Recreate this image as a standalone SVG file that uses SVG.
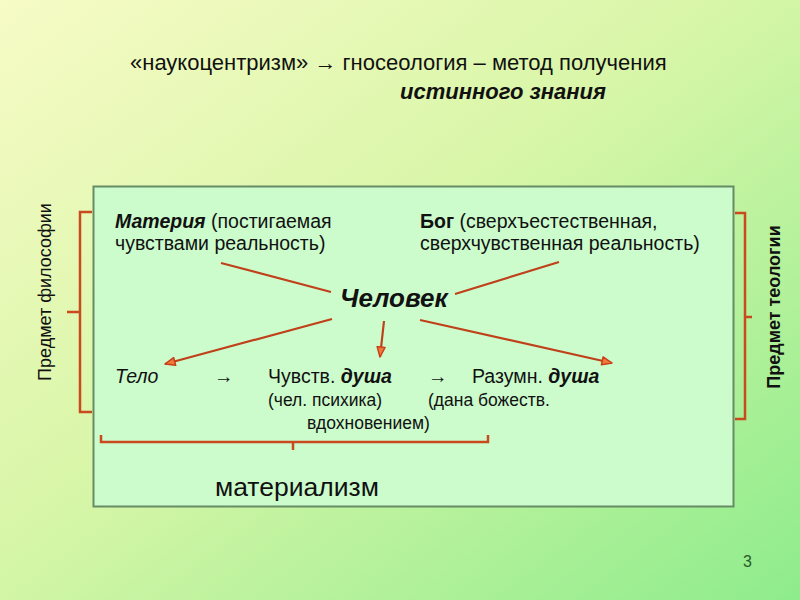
<svg xmlns="http://www.w3.org/2000/svg" width="800" height="600" viewBox="0 0 800 600">
<defs>
<linearGradient id="bg" x1="0" y1="0" x2="1" y2="1">
<stop offset="0" stop-color="#f7fbc6"/>
<stop offset="0.45" stop-color="#d8f6a8"/>
<stop offset="1" stop-color="#8eec8c"/>
</linearGradient>
<marker id="ah" viewBox="0 0 12 10" refX="11" refY="5" markerWidth="12" markerHeight="10" markerUnits="userSpaceOnUse" orient="auto">
<path d="M1,1 L11,5 L1,9 Z" fill="#f07a3a" stroke="#c8401a" stroke-width="1.5" stroke-linejoin="round"/>
</marker>
<style>
text{font-family:"Liberation Sans",Arial,sans-serif;fill:#111}
.t{font-size:22px}
.m{font-size:19.5px}
.s{font-size:17.5px}
.bi{font-weight:bold;font-style:italic}
.i{font-style:italic}
.conn line{stroke:#c0401a;stroke-width:2.2}
.br{fill:none;stroke:#c84a1e;stroke-width:2.5}
.side{font-size:18px}
</style>
</defs>
<rect width="800" height="600" fill="url(#bg)"/>
<g id="title">
<text class="t" x="130" y="70">«наукоцентризм» → гносеология – метод получения</text>
<text class="t bi" x="400" y="99">истинного знания</text>
</g>
<g id="box">
<rect x="93.5" y="186.5" width="640" height="320" fill="#ccfccc" stroke="#668c66" stroke-width="2"/>
</g>
<g id="materiya">
<text class="m" x="115" y="228"><tspan class="bi">Материя</tspan> (постигаемая</text>
<text class="m" x="115" y="250">чувствами реальность)</text>
</g>
<g id="bog">
<text class="m" x="420" y="228"><tspan font-weight="bold">Бог</tspan> (сверхъестественная,</text>
<text class="m" x="420" y="250">сверхчувственная реальность)</text>
</g>
<g id="chelovek">
<text class="bi" x="340" y="307" font-size="26">Человек</text>
</g>
<g id="telo"><text class="m i" x="115" y="383">Тело</text></g>
<g id="arrows-inline">
<text class="m" x="214" y="383">→</text>
<text class="m" x="428" y="383">→</text>
</g>
<g id="chuvstv">
<text class="m" x="268" y="383">Чувств. <tspan class="bi">душа</tspan></text>
<text class="s" x="268" y="406">(чел. психика)</text>
</g>
<g id="razumn">
<text class="m" x="472" y="383">Разумн. <tspan class="bi">душа</tspan></text>
<text class="s" x="428" y="406">(дана божеств.</text>
<text class="s" x="307" y="429">вдохновением)</text>
</g>
<g id="materializm">
<text x="215" y="496" font-size="26.5">материализм</text>
</g>
<g id="filosofia">
<path class="br" d="M92,212 H80 V412 H92 M80,312 H67"/>
<text class="side" transform="translate(51,292) rotate(-90)" text-anchor="middle">Предмет философии</text>
</g>
<g id="teologia">
<path class="br" d="M735,213 H745 V419 H735 M745,317 H752"/>
<text class="side" font-weight="bold" transform="translate(780,307) rotate(-90)" text-anchor="middle">Предмет теологии</text>
</g>
<g id="bottom-bracket">
<path class="br" d="M101,435 V442 H488 V435 M293,442 V450" stroke-width="2.2"/>
</g>
<g class="conn" id="connectors">
<line x1="221" y1="263" x2="331" y2="292"/>
<line x1="559" y1="262" x2="455" y2="294"/>
<line x1="332" y1="319" x2="165" y2="364" marker-end="url(#ah)"/>
<line x1="384" y1="321" x2="380" y2="357" marker-end="url(#ah)"/>
<line x1="420" y1="320" x2="612" y2="363" marker-end="url(#ah)"/>
</g>
<g id="page"><text x="743" y="567" font-size="16" style="fill:#2a5a2a">3</text></g>
</svg>
